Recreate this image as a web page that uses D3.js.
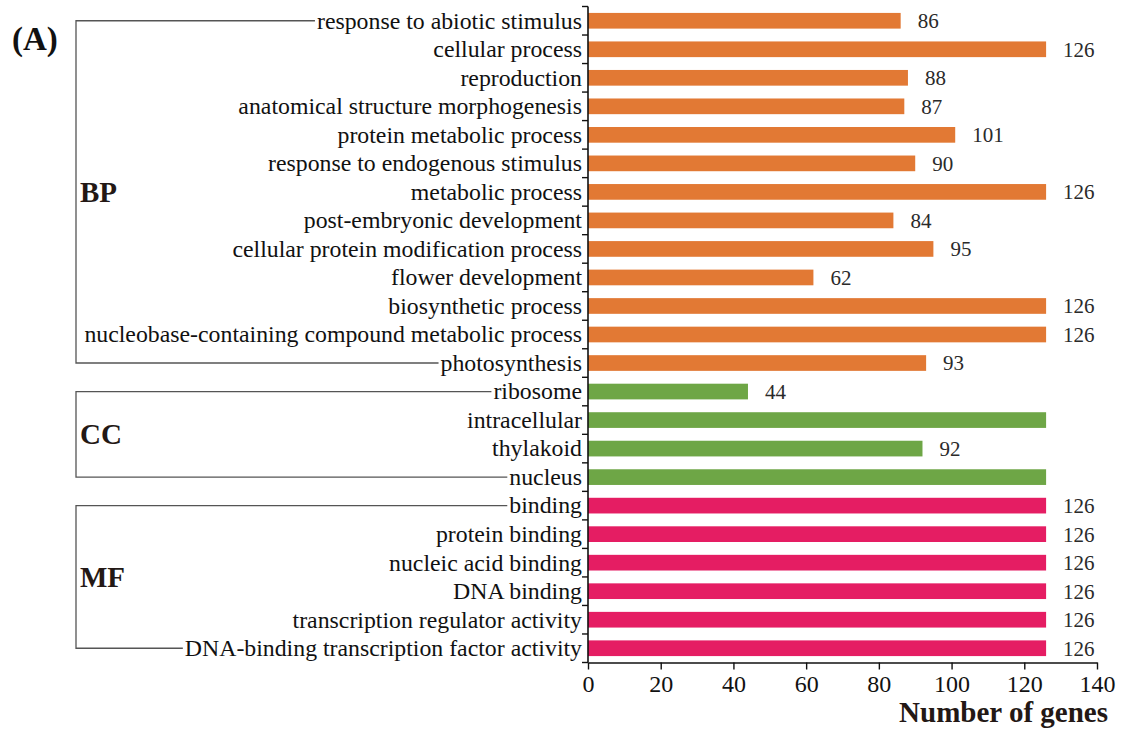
<!DOCTYPE html>
<html>
<head>
<meta charset="utf-8">
<script src="https://cdn.jsdelivr.net/npm/d3@7/dist/d3.min.js"></script>
<style>
  html, body { margin: 0; padding: 0; background: #fff; }
  svg { display: block; }
</style>
</head>
<body>
<svg id="chart" width="1121" height="729"></svg>
<script>
// GO term annotation counts, grouped by ontology
const terms = [
  "response to abiotic stimulus", "cellular process", "reproduction",
  "anatomical structure morphogenesis", "protein metabolic process",
  "response to endogenous stimulus", "metabolic process",
  "post-embryonic development", "cellular protein modification process",
  "flower development", "biosynthetic process",
  "nucleobase-containing compound metabolic process", "photosynthesis",
  "ribosome", "intracellular", "thylakoid", "nucleus",
  "binding", "protein binding", "nucleic acid binding", "DNA binding",
  "transcription regulator activity", "DNA-binding transcription factor activity"
];
const counts = [86, 126, 88, 87, 101, 90, 126, 84, 95, 62, 126, 126, 93,
                44, 126, 92, 126,
                126, 126, 126, 126, 126, 126];
const groups = ["BP","BP","BP","BP","BP","BP","BP","BP","BP","BP","BP","BP","BP",
                "CC","CC","CC","CC",
                "MF","MF","MF","MF","MF","MF"];
const groupNames = ["BP", "CC", "MF"];
const groupColors = ["#e27934", "#6ea646", "#e51d63"];
const xTicks = [0, 20, 40, 60, 80, 100, 120, 140];
// terms whose bars carry no value label
const unlabeled = ["intracellular", "nucleus"];

const svg = d3.select("#chart");
const serif = "'Liberation Serif', 'Times New Roman', serif";

const x = d3.scaleLinear().domain([0, 140]).range([588, 1097]);
const y = d3.scaleBand().domain(terms).range([6.5, 662.5]).paddingInner(0.45).paddingOuter(0.225);
const color = d3.scaleOrdinal().domain(groupNames).range(groupColors);

const rows = terms.map((t, i) => ({ term: t, value: counts[i], group: groups[i] }));

// bars
svg.append("g").selectAll("rect").data(rows).join("rect")
  .attr("x", x(0))
  .attr("y", d => y(d.term))
  .attr("width", d => x(d.value) - x(0))
  .attr("height", y.bandwidth())
  .attr("fill", d => color(d.group));

// value labels
svg.append("g").selectAll("text")
  .data(rows.filter(d => !unlabeled.includes(d.term)))
  .join("text")
  .attr("x", d => x(d.value) + 17)
  .attr("y", d => y(d.term) + y.bandwidth() / 2)
  .attr("dy", "0.35em")
  .attr("font-family", serif)
  .attr("font-size", 21)
  .attr("fill", "#2a2a2a")
  .text(d => d.value);

// category labels
const labels = svg.append("g").selectAll("text").data(rows).join("text")
  .attr("x", 582)
  .attr("y", d => y(d.term) + y.bandwidth() / 2)
  .attr("dy", "0.33em")
  .attr("text-anchor", "end")
  .attr("font-family", serif)
  .attr("font-size", 23.8)
  .attr("fill", "#111")
  .text(d => d.term);

// vertical axis with ticks at band boundaries
const step = y.step();
const y0 = y.range()[0];
const boundaries = d3.range(terms.length + 1).map(i => y0 + i * step);
const yAxisG = svg.append("g");
yAxisG.append("line")
  .attr("x1", x(0)).attr("x2", x(0))
  .attr("y1", boundaries[0]).attr("y2", boundaries[boundaries.length - 1])
  .attr("stroke", "#111").attr("stroke-width", 1.6);
yAxisG.selectAll("line.tk").data(boundaries).join("line")
  .attr("class", "tk")
  .attr("x1", x(0) - 6).attr("x2", x(0))
  .attr("y1", d => d).attr("y2", d => d)
  .attr("stroke", "#111").attr("stroke-width", 1.4);

// horizontal axis
const xAxis = d3.axisBottom(x).tickValues(xTicks).tickSize(7).tickSizeOuter(0);
const xg = svg.append("g")
  .attr("transform", `translate(0,${boundaries[boundaries.length - 1]})`)
  .call(xAxis);
xg.select(".domain").attr("stroke", "#111").attr("stroke-width", 1.6);
xg.selectAll(".tick line").attr("stroke", "#111").attr("stroke-width", 1.4);
xg.selectAll(".tick text")
  .attr("font-family", serif)
  .attr("font-size", 24)
  .attr("fill", "#111")
  .attr("y", 12);

svg.append("text")
  .attr("x", 1108).attr("y", 722)
  .attr("text-anchor", "end")
  .attr("font-family", serif)
  .attr("font-weight", "bold")
  .attr("font-size", 29)
  .attr("fill", "#231815")
  .text("Number of genes");

// group brackets connecting first and last term of each ontology
const labelStart = {};
labels.each(function (d) { labelStart[d.term] = this.getBBox().x; });
const bx = 76;
const bracket = svg.append("g").attr("stroke", "#555").attr("stroke-width", 1.3).attr("fill", "none");
groupNames.forEach(g => {
  const members = rows.filter(d => d.group === g);
  const first = members[0].term, last = members[members.length - 1].term;
  const yTop = y(first) + y.bandwidth() / 2;
  const yBot = y(last) + y.bandwidth() / 2;
  bracket.append("path")
    .attr("d", `M${labelStart[first] - 2},${yTop}H${bx}V${yBot}H${labelStart[last] - 2}`);
  svg.append("text")
    .attr("x", 80)
    .attr("y", (yTop + yBot) / 2)
    .attr("dy", "0.35em")
    .attr("font-family", serif)
    .attr("font-weight", "bold")
    .attr("font-size", 29)
    .attr("fill", "#231815")
    .text(g);
});

// panel tag
svg.append("text")
  .attr("x", 12).attr("y", 50)
  .attr("font-family", serif)
  .attr("font-weight", "bold")
  .attr("font-size", 33)
  .attr("fill", "#111")
  .text("(A)");
</script>
</body>
</html>
